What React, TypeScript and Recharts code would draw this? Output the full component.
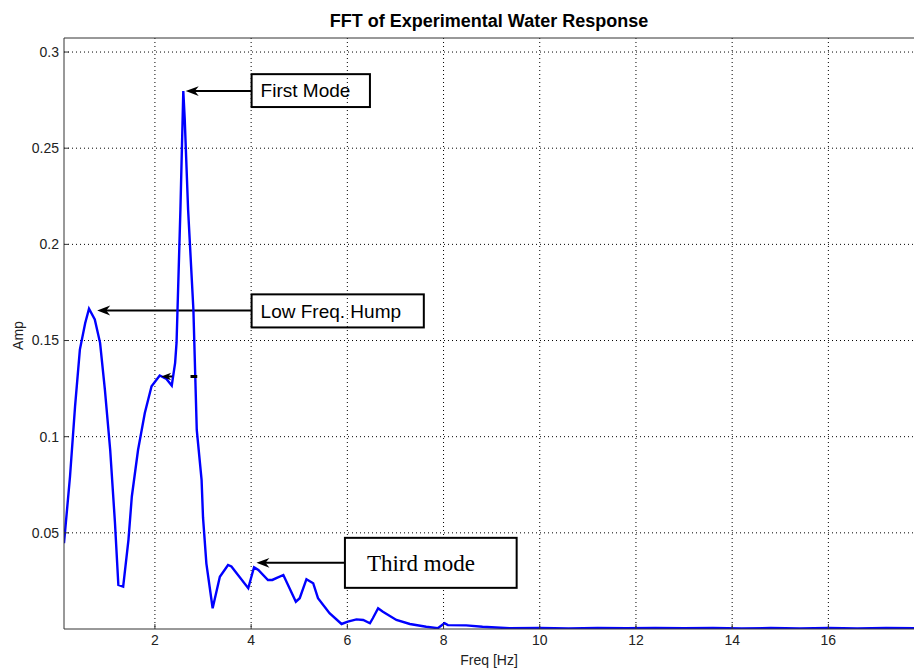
import { LineChart, Line, XAxis, YAxis, CartesianGrid, ReferenceLine, ReferenceArea, Label } from "recharts";

// spectrum samples
const freq = [
  0.11, 0.235, 0.34, 0.44, 0.55, 0.63, 0.75, 0.86, 0.96, 1.07, 1.17, 1.24, 1.34, 1.45, 1.52, 1.65, 1.79, 1.93,
  2.1, 2.24, 2.35, 2.42, 2.45, 2.53, 2.59, 2.62, 2.69, 2.8, 2.87, 2.97, 3.0, 3.07, 3.2, 3.35, 3.52, 3.59, 3.94,
  4.06, 4.15, 4.35, 4.44, 4.67, 4.93, 5.01, 5.15, 5.29, 5.39, 5.63, 5.88, 6.01, 6.19, 6.33, 6.47, 6.53, 6.64,
  6.74, 7.02, 7.3, 7.64, 7.88, 8.02, 8.09, 8.47, 8.81, 9.37, 10.0, 10.6, 11.2, 11.8, 12.4, 13.0, 13.6, 14.2,
  14.8, 15.4, 16.0, 16.6, 17.2, 17.8,
];
const amp = [
  0.0446, 0.0793, 0.1158, 0.1453, 0.159, 0.1665, 0.161, 0.1488, 0.1245, 0.0932, 0.055, 0.0229, 0.022, 0.0464,
  0.0689, 0.0932, 0.1123, 0.1262, 0.1318, 0.13, 0.1266, 0.1384, 0.149, 0.218, 0.2797, 0.265, 0.218, 0.166,
  0.1035, 0.0776, 0.058, 0.034, 0.0108, 0.0272, 0.0333, 0.0325, 0.0212, 0.0321, 0.0307, 0.0255, 0.0255, 0.0281,
  0.0142, 0.016, 0.0259, 0.0238, 0.016, 0.0082, 0.0026, 0.0038, 0.005, 0.0047, 0.003, 0.0056, 0.0108, 0.009,
  0.0047, 0.0026, 0.0012, 0.0004, 0.003, 0.002, 0.0019, 0.0012, 0.0004, 0.0005, 0.0003, 0.0006, 0.0004,
  0.0006, 0.0004, 0.0006, 0.0003, 0.0005, 0.0003, 0.0005, 0.0003, 0.0005, 0.0004,
];
const xTicks = [2, 4, 6, 8, 10, 12, 14, 16];
const yTicks = [0.05, 0.1, 0.15, 0.2, 0.25, 0.3];

const data = freq.map((f, i) => ({ f, amp: amp[i] }));

const X_MIN = 0.11;
const X_MAX = 17.78;
const Y_MAX = 0.3073;

// annotation boxes and their arrows (data units)
const notes = [
  { text: "First Mode", serif: false, x1: 4.01, x2: 6.47, y1: 0.2714, y2: 0.2885, tipX: 2.64, tipY: 0.2797, fill: "none" },
  { text: "Low Freq. Hump", serif: false, x1: 4.01, x2: 7.59, y1: 0.1568, y2: 0.174, tipX: 0.8, tipY: 0.1656, fill: "none" },
  { text: "Third mode", serif: true, x1: 5.95, x2: 9.52, y1: 0.0214, y2: 0.0474, tipX: 4.11, tipY: 0.0344, fill: "#fff" },
];

function Arrow(props: any) {
  const { x1, y1, x2, y2 } = props;
  const dir = Math.sign(x2 - x1) || -1;
  const len = props.head ?? 13;
  const half = len * 0.38;
  return (
    <g>
      <line x1={x1} y1={y1} x2={x2 - dir * len * 0.6} y2={y2} stroke="#000" strokeWidth={2} />
      <polygon
        points={`${x2},${y2} ${x2 - dir * len},${y2 - half} ${x2 - dir * len * 0.7},${y2} ${x2 - dir * len},${y2 + half}`}
        fill="#000"
      />
    </g>
  );
}

function noteBox(text: string, serif: boolean, fill: string) {
  return (p: any) => {
    const fs = serif ? 23 : 19;
    const pad = serif ? 22 : 9;
    return (
      <g>
        <rect x={p.x} y={p.y} width={p.width} height={p.height} fill={fill} stroke="#000" strokeWidth={2} />
        <text
          x={p.x + pad}
          y={p.y + p.height / 2 + fs * 0.36}
          fontSize={fs}
          fontFamily={serif ? "'Liberation Serif', 'Times New Roman', serif" : "'Liberation Sans', Arial, sans-serif"}
          fill="#000"
        >
          {text}
        </text>
      </g>
    );
  };
}

const tickStyle = { fill: "#222", fontSize: 14, fontFamily: "'Liberation Sans', Arial, sans-serif" };

export default function App() {
  return (
    <div style={{ position: "absolute", left: 0, top: 0, width: 914, height: 671, background: "#fff", overflow: "hidden" }}>
      <div
        style={{
          position: "absolute",
          left: 64,
          top: 12,
          width: 850,
          textAlign: "center",
          fontFamily: "'Liberation Sans', Arial, sans-serif",
          fontWeight: "bold",
          fontSize: 18,
          lineHeight: "18px",
          color: "#000",
        }}
      >
        FFT of Experimental Water Response
      </div>
      <LineChart width={914} height={671} data={data} margin={{ top: 38, right: 0, bottom: 0, left: 0 }}>
        <CartesianGrid stroke="#000" strokeDasharray="1 3" horizontalValues={yTicks} verticalValues={xTicks} />
        <XAxis
          dataKey="f"
          type="number"
          domain={[X_MIN, X_MAX]}
          allowDataOverflow
          ticks={xTicks}
          interval={0}
          height={42}
          tickSize={-5}
          tickMargin={11}
          tick={tickStyle}
          axisLine={{ stroke: "#333" }}
          tickLine={{ stroke: "#333" }}
        >
          <Label value="Freq [Hz]" position="insideBottom" offset={6} fill="#222" fontSize={14} fontFamily="'Liberation Sans', Arial, sans-serif" />
        </XAxis>
        <YAxis
          type="number"
          domain={[0, Y_MAX]}
          allowDataOverflow
          ticks={yTicks}
          interval={0}
          width={64}
          tickSize={-5}
          tickMargin={10}
          tick={tickStyle}
          tickFormatter={(v: number) => String(v)}
          axisLine={{ stroke: "#333" }}
          tickLine={{ stroke: "#333" }}
        >
          <Label
            content={(p: any) => {
              const vb = p.viewBox;
              const cx = vb.x + 23;
              const cy = vb.y + vb.height / 2 + 2;
              return (
                <text x={cx} y={cy} transform={`rotate(-90 ${cx} ${cy})`} textAnchor="middle" fontSize={14} fill="#222" fontFamily="'Liberation Sans', Arial, sans-serif">
                  Amp
                </text>
              );
            }}
          />
        </YAxis>
        <ReferenceLine y={Y_MAX} stroke="#333" strokeWidth={1} />
        {notes.map((n) => (
          <ReferenceArea key={n.text} x1={n.x1} x2={n.x2} y1={n.y1} y2={n.y2} shape={noteBox(n.text, n.serif, n.fill)} />
        ))}
        {notes.map((n) => (
          <ReferenceLine
            key={n.text + "-arrow"}
            segment={[{ x: n.x1, y: n.tipY }, { x: n.tipX, y: n.tipY }]}
            shape={(p: any) => <Arrow {...p} />}
          />
        ))}
        <Line type="linear" dataKey="amp" stroke="#0000ff" strokeWidth={2.4} dot={false} isAnimationActive={false} />
        <ReferenceLine segment={[{ x: 2.36, y: 0.1313 }, { x: 2.13, y: 0.1313 }]} shape={(p: any) => <Arrow {...p} head={10} />} />
        <ReferenceLine segment={[{ x: 2.74, y: 0.1313 }, { x: 2.88, y: 0.1313 }]} stroke="#000" strokeWidth={3} />
      </LineChart>
    </div>
  );
}
